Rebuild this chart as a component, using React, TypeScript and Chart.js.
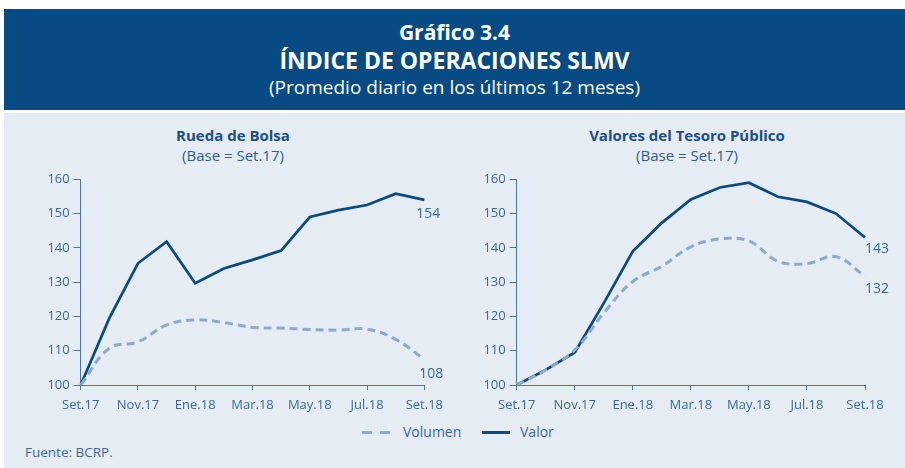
import React, { useEffect, useRef } from "react";
import { Chart, registerables } from "chart.js";

Chart.register(...registerables);

const months = ["Set.17", "Oct.17", "Nov.17", "Dic.17", "Ene.18", "Feb.18", "Mar.18", "Abr.18", "May.18", "Jun.18", "Jul.18", "Ago.18", "Set.18"];
const bolsaValor = [100, 119.5, 135.5, 141.8, 129.7, 134, 136.5, 139.2, 149, 151, 152.5, 155.8, 154];
const bolsaVolumen = [100, 110.7, 112.6, 117.5, 119, 118.2, 116.8, 116.6, 116.2, 116, 116.3, 113.3, 107.5];
const tesoroValor = [100, 104.4, 109.5, 123.9, 139, 147.3, 154.1, 157.6, 159, 154.9, 153.4, 150, 143];
const tesoroVolumen = [100, 104.4, 110.2, 121, 130.2, 134.6, 140.3, 142.6, 142, 136.1, 135.4, 137.4, 131.7];
const yTicks = [100, 110, 120, 130, 140, 150, 160];

const NAVY = "#0b4a80";
const LIGHT = "#8eaacb";
const AXIS = "#4a76a3";
const TEXT = "#3a6a9b";
const FONT = "'Open Sans', sans-serif";

type LabelSpec = { ds: number; dx: number; dy: number };

function makeEndLabels(specs: LabelSpec[]) {
  return {
    id: "endLabels",
    afterDatasetsDraw(chart: any) {
      const ctx = chart.ctx;
      ctx.save();
      ctx.font = `14px ${FONT}`;
      ctx.fillStyle = TEXT;
      ctx.textAlign = "left";
      ctx.textBaseline = "middle";
      specs.forEach((s) => {
        const meta = chart.getDatasetMeta(s.ds);
        const data = chart.data.datasets[s.ds].data as number[];
        const last = meta.data[meta.data.length - 1];
        ctx.fillText(String(Math.round(data[data.length - 1])), last.x + s.dx, last.y + s.dy);
      });
      ctx.restore();
    },
  };
}

function LineChart(props: { valor: number[]; volumen: number[]; yWidth: number; padRight: number; specs: LabelSpec[] }) {
  const ref = useRef<HTMLCanvasElement>(null);
  useEffect(() => {
    const chart = new Chart(ref.current!, {
      type: "line",
      data: {
        labels: months,
        datasets: [
          { label: "Volumen", data: props.volumen, borderColor: LIGHT, borderWidth: 3, borderDash: [8, 5], pointRadius: 0, tension: 0.4, fill: false },
          { label: "Valor", data: props.valor, borderColor: NAVY, borderWidth: 2.7, pointRadius: 0, tension: 0, fill: false },
        ],
      },
      options: {
        animation: false,
        responsive: false,
        maintainAspectRatio: false,
        layout: { padding: { top: 14.3, left: 0, right: props.padRight, bottom: 0 } },
        plugins: { legend: { display: false }, tooltip: { enabled: false }, title: { display: false } },
        scales: {
          x: {
            type: "category",
            offset: false,
            grid: {
              drawOnChartArea: false,
              tickLength: 5,
              tickColor: (c: any) => (c.index % 2 === 0 ? AXIS : "rgba(0,0,0,0)"),
              lineWidth: 1,
            },
            border: { color: AXIS, width: 1 },
            ticks: {
              autoSkip: false,
              maxRotation: 0,
              padding: 7,
              color: TEXT,
              font: { family: FONT, size: 13 },
              callback: (_v: any, i: number) => (i % 2 === 0 ? months[i] : ""),
            },
            afterFit: (s: any) => { s.height = 30; },
          },
          y: {
            min: yTicks[0],
            max: yTicks[yTicks.length - 1],
            grid: { drawOnChartArea: false, tickLength: 7, tickColor: AXIS },
            border: { color: AXIS, width: 1 },
            ticks: { stepSize: 10, padding: 4, color: TEXT, font: { family: FONT, size: 13 } },
            afterFit: (s: any) => { s.width = props.yWidth; },
          },
        },
      },
      plugins: [makeEndLabels(props.specs)],
    } as any);
    return () => chart.destroy();
  }, []);
  return <canvas ref={ref} width={450} height={250} style={{ width: 450, height: 250, display: "block" }} />;
}

const abs = (o: React.CSSProperties): React.CSSProperties => ({ position: "absolute", ...o });

export default function App() {
  return (
    <div style={{ position: "fixed", left: 0, top: 0, width: 905, height: 468, background: "#ffffff", fontFamily: FONT, overflow: "hidden" }}>
      <div style={abs({ left: 4, top: 9, width: 901, height: 101, background: "#074a84" })} />
      <div style={abs({ left: 4, width: 901, top: 18, textAlign: "center", color: "#fff", fontWeight: 700, fontSize: 21, lineHeight: "28px" })}>Gráfico 3.4</div>
      <div style={abs({ left: 4, width: 901, top: 45, textAlign: "center", color: "#fff", fontWeight: 700, fontSize: 23, lineHeight: "30px" })}>ÍNDICE DE OPERACIONES SLMV</div>
      <div style={abs({ left: 4, width: 901, top: 74, textAlign: "center", color: "#fff", fontWeight: 400, fontSize: 19, lineHeight: "26px" })}>(Promedio diario en los últimos 12 meses)</div>

      <div style={abs({ left: 4, top: 113, width: 901, height: 355, background: "#e5ecf4" })} />

      <div style={abs({ left: 133, width: 200, top: 125, textAlign: "center", color: "#1c4f86", fontWeight: 700, fontSize: 15, lineHeight: "21px" })}>Rueda de Bolsa</div>
      <div style={abs({ left: 133, width: 200, top: 145, textAlign: "center", color: "#2f5f92", fontWeight: 400, fontSize: 15, lineHeight: "21px" })}>(Base = Set.17)</div>
      <div style={abs({ left: 537, width: 300, top: 125, textAlign: "center", color: "#1c4f86", fontWeight: 700, fontSize: 15, lineHeight: "21px" })}>Valores del Tesoro Público</div>
      <div style={abs({ left: 537, width: 300, top: 145, textAlign: "center", color: "#2f5f92", fontWeight: 400, fontSize: 15, lineHeight: "21px" })}>(Base = Set.17)</div>

      <div style={abs({ left: 0, top: 165 })}>
        <LineChart valor={bolsaValor} volumen={bolsaVolumen} yWidth={80.7} padRight={22} specs={[{ ds: 1, dx: -8, dy: 14 }, { ds: 0, dx: -5, dy: 15 }]} />
      </div>
      <div style={abs({ left: 455, top: 165 })}>
        <LineChart valor={tesoroValor} volumen={tesoroVolumen} yWidth={61.7} padRight={40} specs={[{ ds: 1, dx: 0, dy: 11 }, { ds: 0, dx: 0, dy: 13 }]} />
      </div>

      <div style={abs({ left: 362, top: 431, width: 10, height: 3, background: LIGHT })} />
      <div style={abs({ left: 380, top: 431, width: 10, height: 3, background: LIGHT })} />
      <div style={abs({ left: 403, top: 422, color: TEXT, fontSize: 14, lineHeight: "20px" })}>Volumen</div>
      <div style={abs({ left: 482, top: 431, width: 28, height: 3, background: NAVY })} />
      <div style={abs({ left: 520, top: 422, color: TEXT, fontSize: 14, lineHeight: "20px" })}>Valor</div>

      <div style={abs({ left: 25, top: 442, color: TEXT, fontSize: 13.5, lineHeight: "20px" })}>Fuente: BCRP.</div>
    </div>
  );
}
